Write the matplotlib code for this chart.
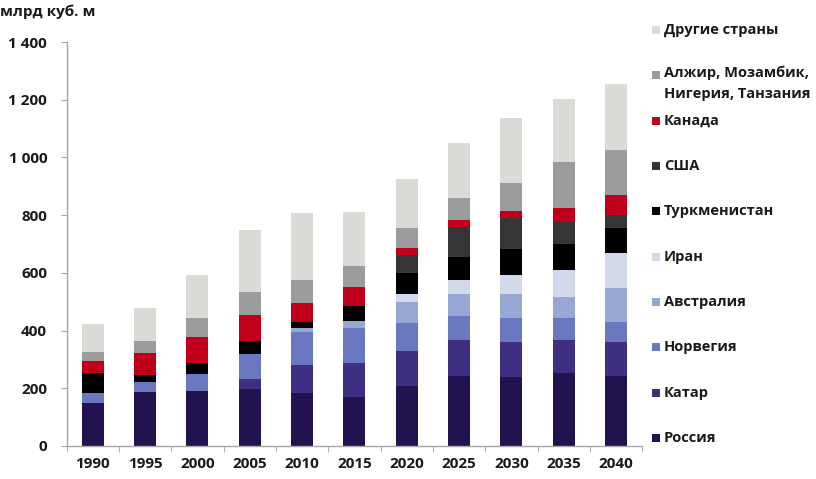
import numpy as np
import matplotlib.pyplot as plt
from matplotlib.patches import Rectangle

plt.rcParams['font.family'] = ['Open Sans', 'DejaVu Sans']

years = ["1990", "1995", "2000", "2005", "2010", "2015", "2020", "2025", "2030", "2035", "2040"]

russia    = [150, 187, 190, 196, 185, 171, 208, 243, 238, 252, 243]
qatar     = [0,   0,   0,   35,  96,  118, 122, 124, 123, 115, 118]
norway    = [33,  36,  60,  88,  115, 119, 95,  83,  81,  75,  70]
australia = [0,   0,   0,   0,   12,  26,  75,  77,  85,  73,  115]
iran      = [0,   0,   0,   0,   0,   0,   27,  48,  65,  95,  124]
turkmen   = [71,  23,  37,  46,  23,  51,  73,  81,  89,  90,  84]
usa       = [0,   0,   0,   0,   0,   0,   62,  104, 108, 77,  46]
canada    = [42,  77,  90,  89,  63,  65,  23,  23,  26,  47,  70]
africa    = [31,  42,  65,  81,  81,  74,  69,  75,  95,  161, 156]
others    = [96,  112, 150, 213, 233, 188, 170, 193, 225, 216, 228]

series = [
	("Россия", russia, "#22124d"),
	("Катар", qatar, "#3e2f82"),
	("Норвегия", norway, "#6a78c0"),
	("Австралия", australia, "#98a8d4"),
	("Иран", iran, "#d2d9ea"),
	("Туркменистан", turkmen, "#000000"),
	("США", usa, "#353535"),
	("Канада", canada, "#c0001a"),
	("Алжир, Мозамбик,\nНигерия, Танзания", africa, "#9c9c9c"),
	("Другие страны", others, "#dadad6"),
]

fig = plt.figure(figsize=(8.16, 4.79), dpi=100)
ax = fig.add_axes([0.0817, 0.0689, 0.7053, 0.8434])

x = np.arange(len(years))
bottom = np.zeros(len(years))
for name, vals, col in series:
	vals = np.array(vals, dtype=float)
	ax.bar(x, vals, width=0.42, bottom=bottom, color=col, linewidth=0)
	bottom += vals

ax.set_xlim(-0.5, len(years) - 0.5)
ax.set_ylim(0, 1400)
ax.set_yticks(range(0, 1401, 200))
ax.set_yticklabels([f"{v:,}".replace(",", " ") for v in range(0, 1401, 200)])
ax.set_xticks(x)
ax.set_xticklabels(years)
ax.set_xticks(np.arange(-0.5, len(years), 1), minor=True)

for s in ["top", "right"]:
	ax.spines[s].set_visible(False)
for s in ["left", "bottom"]:
	ax.spines[s].set_color("#a6a6a6")
	ax.spines[s].set_linewidth(1.0)

ax.tick_params(axis="y", length=4, color="#a6a6a6", labelsize=11, labelcolor="#1a1a1a", pad=10)
ax.tick_params(axis="x", which="major", length=0, labelsize=11, labelcolor="#1a1a1a", pad=8)
ax.tick_params(axis="x", which="minor", length=4, color="#a6a6a6")
for lbl in ax.get_xticklabels() + ax.get_yticklabels():
	lbl.set_fontweight("bold")

fig.text(0.0, 0.975, "млрд куб. м", fontsize=11, fontweight="bold",
	color="#1a1a1a", va="center", ha="left")

# legend on the right, top entry is the last series
W, H = 816, 479
ys = np.linspace(30, 438, len(series))
for (name, vals, col), yp in zip(reversed(series), ys):
	sq = 8
	fig.add_artist(Rectangle((652 / W, 1 - (yp + sq / 2) / H), sq / W, sq / H,
		transform=fig.transFigure, color=col, linewidth=0))
	if "\n" in name:
		fig.text(664 / W, 1 - (yp - 10) / H, name, fontsize=10.5, fontweight="bold",
			color="#1a1a1a", va="top", ha="left", linespacing=1.65)
	else:
		fig.text(664 / W, 1 - yp / H, name, fontsize=10.5, fontweight="bold",
			color="#1a1a1a", va="center", ha="left")

fig.savefig("out.png", dpi=100)
